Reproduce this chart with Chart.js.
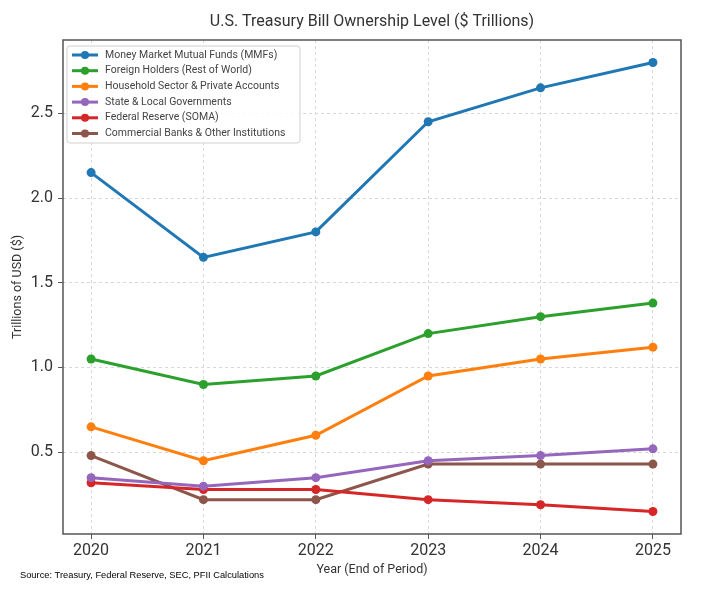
<!DOCTYPE html>
<html>
<head>
<meta charset="utf-8">
<title>U.S. Treasury Bill Ownership Level</title>
<script src="https://cdn.jsdelivr.net/npm/chart.js@4.4.1/dist/chart.umd.min.js"></script>
<style>
  html, body { margin: 0; padding: 0; background: #fff; }
  #wrap { width: 702px; height: 600px; }
</style>
</head>
<body>
<div id="wrap"><canvas id="myChart" width="702" height="600"></canvas></div>
<script>
(() => {
  'use strict';

  const years = [2020, 2021, 2022, 2023, 2024, 2025];
  const yTicks = [0.5, 1.0, 1.5, 2.0, 2.5];

  const seriesNames = [
    'Money Market Mutual Funds (MMFs)',
    'Foreign Holders (Rest of World)',
    'Household Sector & Private Accounts',
    'State & Local Governments',
    'Federal Reserve (SOMA)',
    'Commercial Banks & Other Institutions'
  ];
  const mmfs = [2.15, 1.65, 1.80, 2.45, 2.65, 2.80];
  const foreign = [1.05, 0.90, 0.95, 1.20, 1.30, 1.38];
  const household = [0.65, 0.45, 0.60, 0.95, 1.05, 1.12];
  const stateLocal = [0.35, 0.30, 0.35, 0.45, 0.48, 0.52];
  const fed = [0.32, 0.28, 0.28, 0.22, 0.19, 0.15];
  const banks = [0.48, 0.22, 0.22, 0.43, 0.43, 0.43];
  const colors = ['#1f77b4', '#2ca02c', '#ff7f0e', '#9467bd', '#d62728', '#8c564b'];

  const FONT = 'Roboto, "Open Sans", sans-serif';
  const TEXT = '#333333';

  const toPoints = vals => vals.map((v, i) => ({x: years[i], y: v}));

  const datasets = [mmfs, foreign, household, stateLocal, fed, banks].map((vals, i) => ({
    label: seriesNames[i],
    data: toPoints(vals),
    borderColor: colors[i],
    backgroundColor: colors[i],
    borderWidth: 3,
    pointRadius: 4.5,
    pointHoverRadius: 4.5,
    pointBorderWidth: 0,
    tension: 0
  }));

  // frame, legend box and source note
  const extras = {
    id: 'extras',
    afterDraw(chart) {
      const {ctx, chartArea: a} = chart;
      ctx.save();
      ctx.strokeStyle = '#555555';
      ctx.lineWidth = 1.5;
      ctx.strokeRect(a.left, a.top, a.right - a.left, a.bottom - a.top);

      const bx = a.left + 4, by = a.top + 6, bw = 233, bh = 97;
      ctx.fillStyle = 'rgba(255,255,255,0.85)';
      ctx.strokeStyle = '#d0d0d0';
      ctx.lineWidth = 1;
      ctx.beginPath();
      ctx.roundRect(bx, by, bw, bh, 3);
      ctx.fill();
      ctx.stroke();

      ctx.font = '10.5px ' + FONT;
      ctx.textBaseline = 'middle';
      chart.data.datasets.forEach((ds, i) => {
        const yy = by + 9 + i * 15.7;
        ctx.strokeStyle = ds.borderColor;
        ctx.lineWidth = 3;
        ctx.beginPath();
        ctx.moveTo(bx + 5, yy);
        ctx.lineTo(bx + 31, yy);
        ctx.stroke();
        ctx.fillStyle = ds.borderColor;
        ctx.beginPath();
        ctx.arc(bx + 18, yy, 4, 0, Math.PI * 2);
        ctx.fill();
        ctx.fillStyle = '#444444';
        ctx.fillText(ds.label, bx + 38, yy);
      });

      ctx.fillStyle = '#000000';
      ctx.font = '9.3px "Liberation Sans", Arial, sans-serif';
      ctx.textBaseline = 'alphabetic';
      ctx.fillText('Source: Treasury, Federal Reserve, SEC, PFII Calculations', 20, 578);
      ctx.restore();
    }
  };

  const ctx = document.getElementById('myChart').getContext('2d');
  new Chart(ctx, {
    type: 'line',
    data: {datasets},
    plugins: [extras],
    options: {
      responsive: false,
      animation: false,
      events: [],
      layout: {padding: {left: 0, right: 21, top: 0, bottom: 20}},
      plugins: {
        legend: {display: false},
        tooltip: {enabled: false},
        title: {
          display: true,
          text: 'U.S. Treasury Bill Ownership Level ($ Trillions)',
          fullSize: false,
          color: TEXT,
          font: {family: FONT, size: 16, weight: 'normal'},
          padding: {top: 12.4, bottom: 8.4}
        }
      },
      scales: {
        x: {
          type: 'linear',
          min: 2019.75,
          max: 2025.25,
          afterBuildTicks: scale => { scale.ticks = years.map(v => ({value: v})); },
          afterFit: scale => { scale.height = 46; },
          ticks: {
            color: TEXT,
            font: {family: FONT, size: 16},
            padding: 2,
            maxRotation: 0,
            callback: v => String(v)
          },
          grid: {color: '#d8d8d8', tickColor: '#555555', tickLength: 5, tickBorderDash: []},
          border: {display: false, dash: [3, 3]},
          title: {
            display: true,
            text: 'Year (End of Period)',
            color: TEXT,
            font: {family: FONT, size: 12.5},
            padding: {top: 0, bottom: 2.5}
          }
        },
        y: {
          type: 'linear',
          min: 0.0175,
          max: 2.9325,
          afterBuildTicks: scale => { scale.ticks = yTicks.map(v => ({value: v})); },
          afterFit: scale => { scale.width = 63; },
          ticks: {
            color: TEXT,
            font: {family: FONT, size: 16},
            padding: 5,
            callback: v => v.toFixed(1)
          },
          grid: {color: '#d8d8d8', tickColor: '#555555', tickLength: 5, tickBorderDash: []},
          border: {display: false, dash: [3, 3]},
          title: {
            display: true,
            text: 'Trillions of USD ($)',
            color: TEXT,
            font: {family: FONT, size: 12.5},
            padding: {top: 10.5, bottom: 0}
          }
        }
      }
    }
  });
})();
</script>
</body>
</html>
